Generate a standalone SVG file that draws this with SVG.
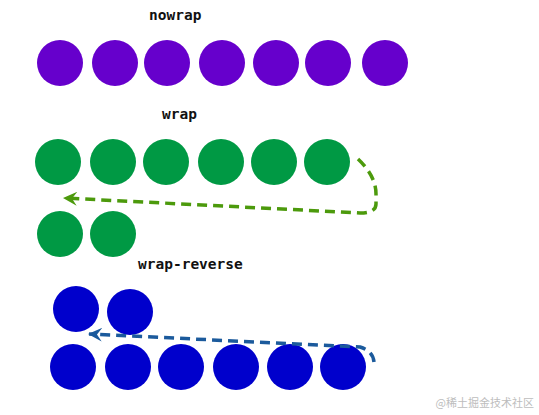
<svg xmlns="http://www.w3.org/2000/svg" width="539" height="415" viewBox="0 0 539 415">
<style>
.lbl{font-family:"DejaVu Sans Mono","Liberation Mono",monospace;font-weight:bold;font-size:14.5px;fill:#111}
.p{fill:#6600cc}
.g{fill:#009944}
.b{fill:#0000cc}
.dash{fill:none;stroke-width:3.5;stroke-dasharray:10,6}
.wm{font-family:"Noto Sans CJK SC","Liberation Sans",sans-serif;font-size:11px;fill:#bdbdbd}
</style>
<defs>
<marker id="ag" markerWidth="16" markerHeight="14" refX="14" refY="7" orient="auto" markerUnits="userSpaceOnUse">
<path d="M15,7 L1,0 L6,7 L1,14 Z" fill="#4c9a0c"/>
</marker>
<marker id="ab" markerWidth="16" markerHeight="14" refX="14" refY="7" orient="auto" markerUnits="userSpaceOnUse">
<path d="M15,7 L1,0 L6,7 L1,14 Z" fill="#1b5a9c"/>
</marker>
</defs>
<rect width="539" height="415" fill="#fff"/>
<text class="lbl" x="149" y="20">nowrap</text>
<text class="lbl" x="162" y="119">wrap</text>
<text class="lbl" x="138" y="269">wrap-reverse</text>
<g id="nowrap">
<circle class="p" cx="60" cy="63" r="23"/>
<circle class="p" cx="115" cy="63" r="23"/>
<circle class="p" cx="167" cy="63" r="23"/>
<circle class="p" cx="222" cy="63" r="23"/>
<circle class="p" cx="276" cy="63" r="23"/>
<circle class="p" cx="328" cy="63" r="23"/>
<circle class="p" cx="385" cy="63" r="23"/>
</g>
<g id="wrap">
<circle class="g" cx="58" cy="162" r="23"/>
<circle class="g" cx="113" cy="162" r="23"/>
<circle class="g" cx="166" cy="162" r="23"/>
<circle class="g" cx="221" cy="162" r="23"/>
<circle class="g" cx="274" cy="162" r="23"/>
<circle class="g" cx="327" cy="162" r="23"/>
<circle class="g" cx="60" cy="234" r="23"/>
<circle class="g" cx="113" cy="234" r="23"/>
</g>
<g id="wrap-reverse">
<circle class="b" cx="76" cy="309" r="23"/>
<circle class="b" cx="130" cy="312" r="23"/>
<circle class="b" cx="73" cy="367" r="23"/>
<circle class="b" cx="128" cy="367" r="23"/>
<circle class="b" cx="181" cy="367" r="23"/>
<circle class="b" cx="236" cy="367" r="23"/>
<circle class="b" cx="290" cy="367" r="23"/>
<circle class="b" cx="343" cy="367" r="23"/>
</g>
<g id="connectors">
<path class="dash" stroke="#4c9a0c" d="M358,159 Q376,176 376,194 L376,204 Q376,213 360,213 L64,198" marker-end="url(#ag)"/>
<path class="dash" stroke="#1b5a9c" d="M374,362 Q373,351 360,347 L89,334" marker-end="url(#ab)"/>
</g>
<text class="wm" x="534" y="407" text-anchor="end">@稀土掘金技术社区</text>
</svg>
